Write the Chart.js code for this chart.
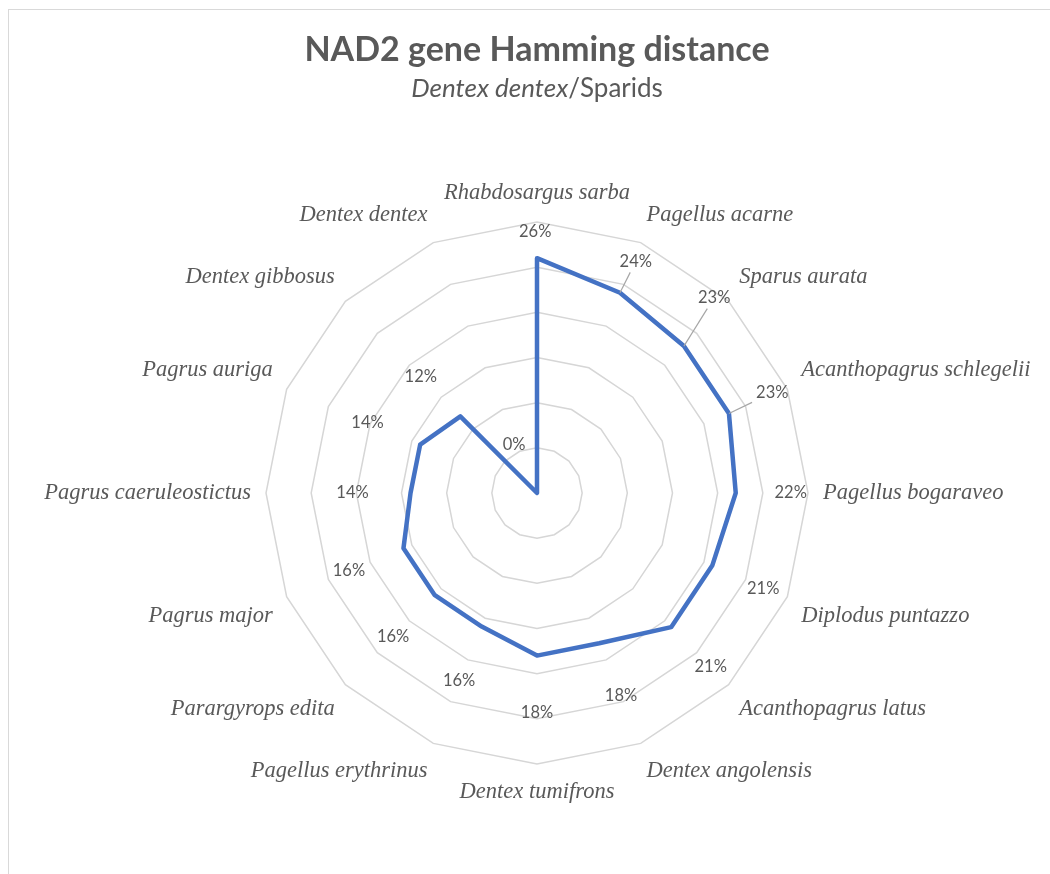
<!DOCTYPE html>
<html>
<head>
<meta charset="utf-8">
<script src="https://cdn.jsdelivr.net/npm/chart.js@4.4.1/dist/chart.umd.min.js"></script>
<style>
  html, body { margin: 0; padding: 0; background: #fff; overflow: hidden; }
  #wrap { position: absolute; left: 0; top: 0; width: 1050px; height: 874px; overflow: hidden; }
  #frame { position: absolute; left: 8px; top: 9px; width: 1100px; height: 900px; border: 1px solid #d9d9d9; box-sizing: border-box; }
  #myChart { position: absolute; left: -75px; top: 0; }
</style>
</head>
<body>
<div id="wrap">
  <div id="frame"></div>
  <canvas id="myChart" width="1224" height="874"></canvas>
</div>
<script>
// chart data
const species = [
  "Rhabdosargus sarba", "Pagellus acarne", "Sparus aurata", "Acanthopagrus schlegelii",
  "Pagellus bogaraveo", "Diplodus puntazzo", "Acanthopagrus latus", "Dentex angolensis",
  "Dentex tumifrons", "Pagellus erythrinus", "Parargyrops edita", "Pagrus major",
  "Pagrus caeruleostictus", "Pagrus auriga", "Dentex gibbosus", "Dentex dentex"
];
const distances = [26, 24, 23, 23, 22, 21, 21, 18, 18, 16, 16, 16, 14, 14, 12, 0];
const scaleMax = 30;
const scaleStep = 5;

const titleText = "NAD2 gene Hamming distance";
const subItalic = "Dentex dentex";
const subPlain = "/Sparids";

// where the % labels sit: px beyond the point, small turn in degrees
const labelGap = [26, 35, 56, 48, 55, 56, 56, 57, 57, 59, 59, 59, 58, 57, 56, 53];
const labelTurn = [-0.4, 0.6, -2.8, -0.6, 0, 0.5, 0, 0, 0, 0, 0, 0, 0, 0, 0, -3];
const leaderIdx = [1, 2, 3];

const grey = "#595959";

const valueLabels = {
  id: "valueLabels",
  afterDatasetsDraw(chart) {
    const r = chart.scales.r;
    const ctx = chart.ctx;
    ctx.save();
    ctx.font = "16.5px Lato";
    ctx.textAlign = "center";
    ctx.textBaseline = "middle";
    distances.forEach((v, i) => {
      const d = r.getDistanceFromCenterForValue(v);
      const pt = r.getPointPosition(i, d);
      const lb = r.getPointPosition(i, d + labelGap[i], labelTurn[i] * Math.PI / 180);
      const text = v + "%";
      if (leaderIdx.includes(i)) {
        const hw = ctx.measureText(text).width / 2 + 4;
        const hh = 11;
        const dx = lb.x - pt.x, dy = lb.y - pt.y;
        const t = Math.max(1 - hw / Math.abs(dx || 1e-6), 1 - hh / Math.abs(dy || 1e-6), 0);
        ctx.strokeStyle = "#a6a6a6";
        ctx.lineWidth = 1.2;
        ctx.beginPath();
        ctx.moveTo(pt.x, pt.y);
        ctx.lineTo(pt.x + dx * t, pt.y + dy * t);
        ctx.stroke();
      }
      ctx.fillStyle = grey;
      ctx.fillText(text, lb.x, lb.y);
    });
    ctx.restore();
  }
};

const headings = {
  id: "headings",
  afterDraw(chart) {
    const ctx = chart.ctx;
    const cx = chart.scales.r.xCenter;
    ctx.save();
    ctx.fillStyle = grey;
    ctx.textBaseline = "middle";
    ctx.textAlign = "center";
    ctx.font = "bold 34px Lato";
    ctx.fillText(titleText, cx, 50);
    ctx.font = "italic 26px Lato";
    const a = ctx.measureText(subItalic).width;
    ctx.font = "26px Lato";
    const b = ctx.measureText(subPlain).width;
    const x = cx - (a + b) / 2;
    ctx.textAlign = "left";
    ctx.font = "italic 26px Lato";
    ctx.fillText(subItalic, x, 89);
    ctx.font = "26px Lato";
    ctx.fillText(subPlain, x + a, 89);
    ctx.restore();
  }
};

new Chart("myChart", {
  type: "radar",
  data: {
    labels: species,
    datasets: [
      {
        data: distances,
        borderColor: "#4472C4",
        backgroundColor: "rgba(0,0,0,0)",
        borderWidth: 4.5,
        borderJoinStyle: "round",
        pointRadius: 0,
        pointHoverRadius: 0,
        fill: false,
        tension: 0,
      },
    ],
  },
  options: {
    responsive: false,
    animation: false,
    layout: { padding: { top: 180, bottom: 68, left: 0, right: 0 } },
    plugins: {
      legend: { display: false },
      tooltip: { enabled: false },
    },
    scales: {
      r: {
        min: 0,
        max: scaleMax,
        ticks: { display: false, stepSize: scaleStep },
        grid: { color: "#d6d6d6", lineWidth: 1.5 },
        angleLines: { display: false },
        pointLabels: {
          color: grey,
          padding: 15,
          font: { family: "Liberation Serif", style: "italic", size: 22.5 },
        },
      },
    },
  },
  plugins: [valueLabels, headings],
});
</script>
</body>
</html>
